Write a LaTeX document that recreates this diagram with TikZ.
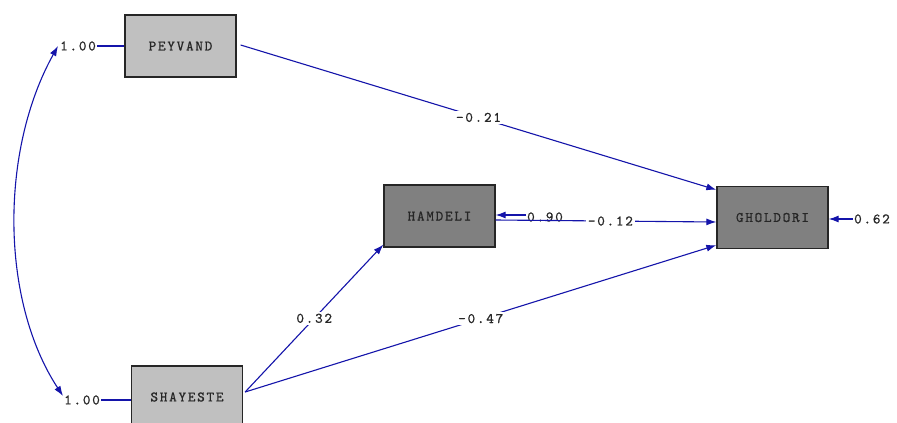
\documentclass[tikz,border=0pt]{standalone}
\usepackage{fontspec}
\usetikzlibrary{arrows.meta}
\newfontfamily\lis[LetterSpace=12,FakeBold=0.8]{lmmono10-regular.otf}
\newcommand\lblfont{\lis\fontsize{14.5}{15}\selectfont}
\definecolor{pathblue}{RGB}{20,20,170}
\definecolor{exgray}{RGB}{192,192,192}
\definecolor{engray}{RGB}{128,128,128}
\tikzset{
  varbox/.style={draw=black!85, line width=1.3pt, minimum width=111pt, minimum height=62pt, inner sep=0pt, font=\lblfont, text=black!85},
  exbox/.style={varbox, fill=exgray},
  enbox/.style={varbox, fill=engray},
  val/.style={font=\lblfont, inner sep=1pt, text=black!85},
  lab/.style={val, fill=white, inner sep=2pt},
  conn/.style={draw=pathblue, line width=1.1pt},
  arr/.style={conn, -{Latex[length=10pt,width=7pt]}},
  darr/.style={conn, {Latex[length=10pt,width=7pt]}-{Latex[length=10pt,width=7pt]}},
}
\begin{document}
\begin{tikzpicture}[x=1pt,y=-1pt]
\useasboundingbox[fill=white] (0,0) rectangle (897,423);
\node[exbox] (pey) at (180.5,46) {PEYVAND};
\node[exbox] (sha) at (187,397) {SHAYESTE};
\node[enbox] (ham) at (439.5,216) {HAMDELI};
\node[enbox] (gho) at (772.5,217.5) {GHOLDORI};
\node[val] (e1) at (78,46) {1.00};
\node[val] (e2) at (82,400) {1.00};
\node[val] (e3) at (545,217) {0.90};
\node[val] (e4) at (872,219) {0.62};
\coordinate (c1) at (58,46);
\coordinate (c2) at (63,396);
\draw[conn] (e1.east) -- (pey.west);
\draw[conn] (e2.east) -- (sha.west |- e2.east);
\draw[darr] (c1) .. controls (0,150) and (0,300) .. (c2);
\draw[arr] (e3.west |- 0,215) -- (ham.east |- 0,215);
\draw[arr] (e4.west) -- (gho.east |- e4.west);
\draw[arr] ([xshift=4pt,yshift=1pt]pey.east) -- node[lab,pos=0.5]{-0.21} ([yshift=-4pt]gho.north west);
\draw[arr] (ham.east |- 0,220) -- node[lab,pos=0.52]{-0.12} (gho.west |- 0,222);
\draw[arr] ([xshift=2pt,yshift=5pt]sha.east) -- node[lab,pos=0.5]{0.32} ([yshift=3pt]ham.south west);
\draw[arr] ([xshift=2pt,yshift=5pt]sha.east) -- node[lab,pos=0.5]{-0.47} ([yshift=4pt]gho.south west);
\end{tikzpicture}
\end{document}
